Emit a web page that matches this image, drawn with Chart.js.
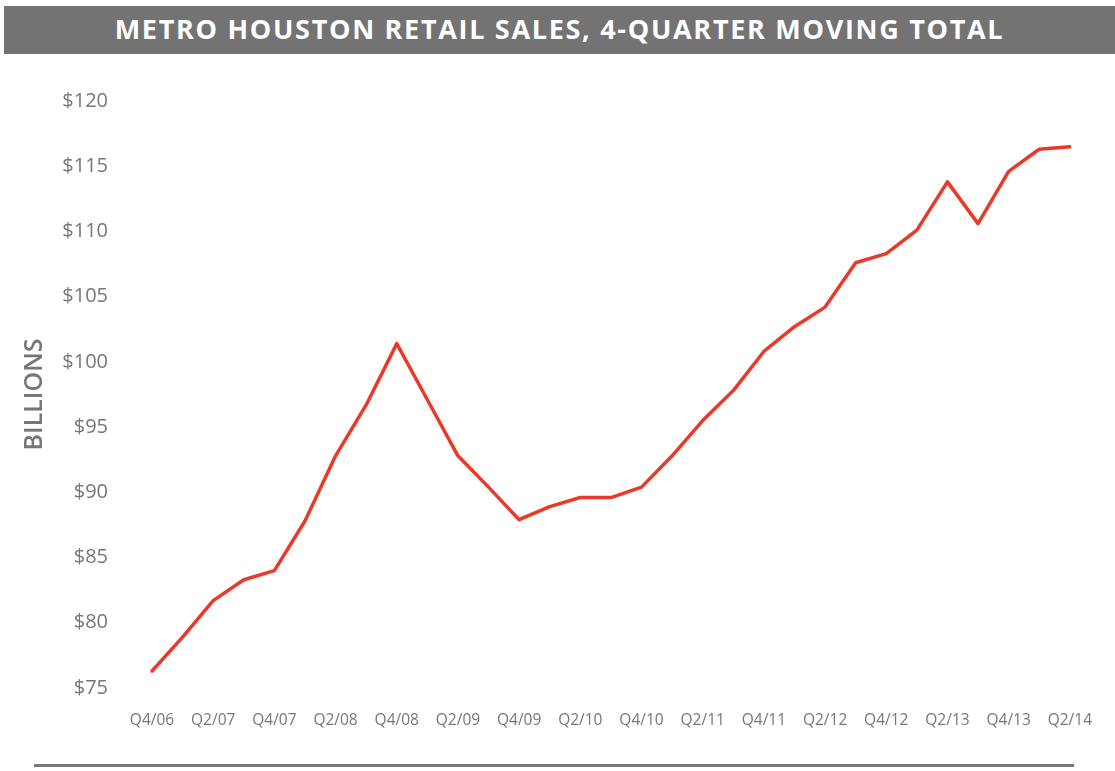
<!DOCTYPE html>
<html>
<head>
<meta charset="utf-8">
<script src="https://cdn.jsdelivr.net/npm/chart.js@4.4.0/dist/chart.umd.min.js"></script>
<style>
  html, body { margin: 0; padding: 0; background: #fff; }
  body { width: 1115px; height: 771px; position: relative; overflow: hidden; }
  .title {
    position: absolute; left: 4px; top: 6px; width: 1111px; height: 48px;
    background: #737373; color: #fff; z-index: 2;
    font-family: 'Open Sans', sans-serif; font-weight: 700; font-size: 27px;
    letter-spacing: 1.7px; line-height: 46px; text-align: center;
  }
  .rule {
    position: absolute; left: 34px; top: 764px; width: 1040px; height: 3px;
    background: #777; z-index: 2;
  }
  #wrap { position: absolute; left: 0; top: 0; width: 1115px; height: 771px; }
</style>
</head>
<body>
<div class="title">METRO HOUSTON RETAIL SALES, 4-QUARTER MOVING TOTAL</div>
<div id="wrap"><canvas id="retail-chart" width="1115" height="771"></canvas></div>
<div class="rule"></div>
<script>
const quarters=['Q4/06','Q1/07','Q2/07','Q3/07','Q4/07','Q1/08','Q2/08','Q3/08','Q4/08',
  'Q1/09','Q2/09','Q3/09','Q4/09','Q1/10','Q2/10','Q3/10','Q4/10','Q1/11','Q2/11','Q3/11',
  'Q4/11','Q1/12','Q2/12','Q3/12','Q4/12','Q1/13','Q2/13','Q3/13','Q4/13','Q1/14','Q2/14']
// billions of dollars, 4-quarter moving total
const sales=[76.3,78.9,81.7,83.3,84.0,87.8,92.8,96.7,101.4,
  97.1,92.8,90.4,87.9,88.9,89.6,89.6,90.4,92.8,95.5,97.8,
  100.8,102.7,104.2,107.6,108.3,110.1,113.8,110.6,114.6,116.3,116.5]
const yTicks=[75,80,85,90,95,100,105,110,115,120]

const grey='#777777'
const ctx=document.getElementById('retail-chart')
new Chart(ctx,{
  type:'line',
  data:{
    labels:quarters,
    datasets:[{
      label:'Retail sales',
      data:sales,
      borderColor:'#e8392a',
      borderWidth:3.5,
      pointRadius:0,
      tension:0,
      borderJoinStyle:'round',
      borderCapStyle:'round'
    }]
  },
  options:{
    responsive:false,
    animation:false,
    layout:{padding:{left:20,right:37,top:101,bottom:33}},
    plugins:{legend:{display:false},tooltip:{enabled:false}},
    scales:{
      x:{
        offset:false,
        grid:{display:false,drawTicks:false},
        border:{display:false},
        afterFit:s=>{s.height=50},
        ticks:{
          autoSkip:false,maxRotation:0,padding:23,color:grey,
          font:{family:'Open Sans',size:15.5},
          callback:(v,i)=>i%2===0?quarters[i]:''
        }
      },
      y:{
        min:75,max:120,
        afterBuildTicks:s=>{s.ticks=yTicks.map(v=>({value:v}))},
        afterFit:s=>{s.width=132},
        grid:{display:false,drawTicks:false},
        border:{display:false},
        ticks:{
          padding:44,color:grey,
          font:{family:'Open Sans',size:20},
          callback:v=>'$'+v
        },
        title:{
          display:true,text:'BILLIONS',color:grey,
          font:{family:'Open Sans',size:25,weight:'600'},
          padding:{top:0,bottom:0}
        }
      }
    }
  }
})
</script>
</body>
</html>
